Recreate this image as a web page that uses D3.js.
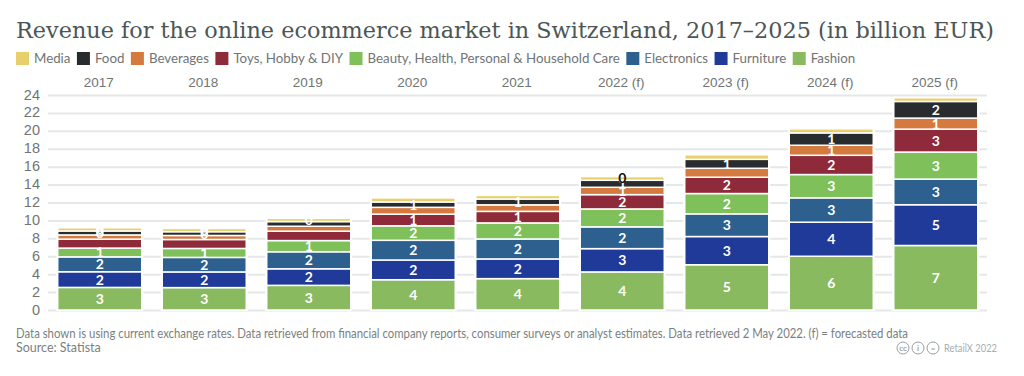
<!DOCTYPE html>
<html lang="en">
<head>
<meta charset="utf-8">
<script src="https://d3js.org/d3.v7.min.js"></script>
<style>
  html, body { margin: 0; padding: 0; background: #fff; }
  svg { display: block; font-family: Lato, sans-serif; }
  .title { font-family: "DejaVu Serif", serif; font-size: 23px; fill: #4c5654; }
  .legend text { font-size: 13.3px; fill: #6f7575; }
  .note { font-size: 12.5px; fill: #7a7f7f; }
  .axis text { fill: #6f7575; }
  .axis .domain { display: none; }
  .barlabel { font-size: 14px; font-weight: 700; fill: #fff; text-anchor: middle; }
</style>
</head>
<body>
<div id="chart"></div>
<script>
const years = ["2017", "2018", "2019", "2020", "2021", "2022 (f)", "2023 (f)", "2024 (f)", "2025 (f)"];
const yTicks = [0, 2, 4, 6, 8, 10, 12, 14, 16, 18, 20, 22, 24];

// values, bottom of the stack first
const fashion     = [2.52, 2.5, 2.75, 3.38, 3.5, 4.25, 5.05, 6.0, 7.2];
const furniture   = [1.75, 1.75, 1.85, 2.2, 2.2, 2.6, 3.15, 3.8, 4.55];
const electronics = [1.66, 1.62, 1.9, 2.2, 2.23, 2.43, 2.53, 2.72, 2.86];
const beauty      = [0.98, 1.0, 1.25, 1.62, 1.79, 2.0, 2.27, 2.6, 3.02];
const toys        = [1.0, 1.0, 1.05, 1.3, 1.29, 1.6, 1.82, 2.15, 2.56];
const beverages   = [0.47, 0.45, 0.55, 0.76, 0.73, 0.82, 1.0, 1.12, 1.23];
const food        = [0.44, 0.42, 0.52, 0.6, 0.65, 0.78, 1.0, 1.38, 1.86];
const media       = [0.36, 0.36, 0.36, 0.45, 0.4, 0.41, 0.5, 0.45, 0.41];

// printed labels, blank where the original hides them
const fashionLabels     = ["3", "3", "3", "4", "4", "4", "5", "6", "7"];
const furnitureLabels   = ["2", "2", "2", "2", "2", "3", "3", "4", "5"];
const electronicsLabels = ["2", "2", "2", "2", "2", "2", "3", "3", "3"];
const beautyLabels      = ["1", "1", "1", "2", "2", "2", "2", "3", "3"];
const toysLabels        = ["", "", "", "1", "1", "2", "2", "2", "3"];
const beveragesLabels   = ["", "", "", "", "", "1", "", "1", "1"];
const foodLabels        = ["0", "0", "", "1", "1", "1", "1", "1", "2"];
const mediaLabels       = ["0", "0", "0", "", "", "0", "", "", ""];

const seriesNames = ["Fashion", "Furniture", "Electronics", "Beauty, Health, Personal & Household Care", "Toys, Hobby & DIY", "Beverages", "Food", "Media"];
const seriesValues = [fashion, furniture, electronics, beauty, toys, beverages, food, media];
const seriesLabels = [fashionLabels, furnitureLabels, electronicsLabels, beautyLabels, toysLabels, beveragesLabels, foodLabels, mediaLabels];
const seriesColors = ["#8aba60", "#1f3a98", "#2d5f8f", "#80c05a", "#8e2a3a", "#d57a3f", "#282c2e", "#e8cf6c"];

const width = 1024, height = 376;

const svg = d3.select("#chart").append("svg")
  .attr("width", width)
  .attr("height", height);

svg.append("text")
  .attr("class", "title")
  .attr("x", 16)
  .attr("y", 38)
  .attr("textLength", 978)
  .attr("lengthAdjust", "spacingAndGlyphs")
  .text("Revenue for the online ecommerce market in Switzerland, 2017\u20132025 (in billion EUR)");

// legend runs in reverse stack order and flows by measured text width
const legend = svg.append("g").attr("class", "legend");
let lx = 16;
d3.range(seriesNames.length - 1, -1, -1).forEach(function (i) {
  legend.append("rect")
    .attr("x", lx).attr("y", 52)
    .attr("width", 13).attr("height", 13)
    .attr("fill", seriesColors[i]);
  const t = legend.append("text")
    .attr("x", lx + 18).attr("y", 63)
    .text(seriesNames[i]);
  lx += 18 + t.node().getComputedTextLength() + 6.5;
});

const x = d3.scaleBand()
  .domain(years)
  .range([48, 987.5])
  .paddingInner(0.196)
  .paddingOuter(0.093);

const y = d3.scaleLinear()
  .domain([0, 24])
  .range([310, 95]);

// grid lines + y labels
const yAxis = svg.append("g")
  .attr("class", "axis")
  .attr("transform", "translate(48,0)")
  .call(d3.axisLeft(y).tickValues(yTicks).tickSize(0).tickPadding(8));
yAxis.selectAll("text").style("font-size", "14.5px").attr("dy", "0.28em");
yAxis.selectAll(".tick").append("line")
  .attr("x1", 0).attr("x2", 939)
  .attr("stroke", "#e5e8e8").attr("stroke-width", 2);

// year labels above the plot
const xAxis = svg.append("g")
  .attr("class", "axis")
  .attr("transform", "translate(-1,87)")
  .call(d3.axisTop(x).tickSize(0).tickPadding(0));
xAxis.selectAll("text").style("font-size", "13.5px");

const stack = d3.stack().keys(d3.range(seriesNames.length)).value(function (row, k) { return row[k]; });
const rows = years.map(function (yr, i) { return seriesValues.map(function (s) { return s[i]; }); });
const layers = stack(rows);

// white halo that breaks the grid lines beside each column
svg.append("g").selectAll("rect")
  .data(years)
  .join("rect")
  .attr("x", function (d) { return x(d) - 1.5; })
  .attr("width", x.bandwidth() + 3)
  .attr("y", function (d, i) { return y(layers[layers.length - 1][i][1]); })
  .attr("height", function (d, i) { return y(0) - y(layers[layers.length - 1][i][1]) + 1; })
  .attr("fill", "#fff");

layers.forEach(function (layer, k) {
  svg.append("g").selectAll("rect")
    .data(layer)
    .join("rect")
    .attr("x", function (d, i) { return x(years[i]); })
    .attr("width", x.bandwidth())
    .attr("y", function (d) { return y(d[1]); })
    .attr("height", function (d) { return y(d[0]) - y(d[1]); })
    .attr("fill", seriesColors[k])
    .attr("stroke", "#fff")
    .attr("stroke-width", 1.5);
});

layers.forEach(function (layer, k) {
  svg.append("g").selectAll("text")
    .data(layer)
    .join("text")
    .attr("class", "barlabel")
    .attr("x", function (d, i) { return x(years[i]) + x.bandwidth() / 2; })
    .attr("y", function (d) { return (y(d[0]) + y(d[1])) / 2 + 5; })
    .style("fill", function (d, i) { return (k === 7 && years[i] === "2022 (f)") ? "#111" : "#fff"; })
    .text(function (d, i) { return seriesLabels[k][i]; });
});

svg.append("text").attr("class", "note").attr("x", 16).attr("y", 338)
  .attr("textLength", 892)
  .attr("lengthAdjust", "spacingAndGlyphs")
  .text("Data shown is using current exchange rates. Data retrieved from financial company reports, consumer surveys or analyst estimates. Data retrieved 2 May 2022. (f) = forecasted data");
svg.append("text").attr("class", "note").attr("x", 16).attr("y", 352)
  .text("Source: Statista");

// licence badges and credit
const badges = svg.append("g").attr("transform", "translate(0,348)");
[["cc", 903], ["i", 918], ["=", 933]].forEach(function (b) {
  badges.append("circle").attr("cx", b[1]).attr("cy", 0).attr("r", 6)
    .attr("fill", "none").attr("stroke", "#9a9f9f").attr("stroke-width", 1);
  badges.append("text").attr("x", b[1]).attr("y", 3)
    .attr("text-anchor", "middle").attr("font-size", 8).attr("font-weight", 700)
    .attr("fill", "#9a9f9f").text(b[0]);
});
badges.append("text").attr("x", 944).attr("y", 4)
  .attr("font-size", 10.5).attr("fill", "#a9aeae")
  .attr("textLength", 53).attr("lengthAdjust", "spacingAndGlyphs").text("RetailX 2022");
</script>
</body>
</html>
